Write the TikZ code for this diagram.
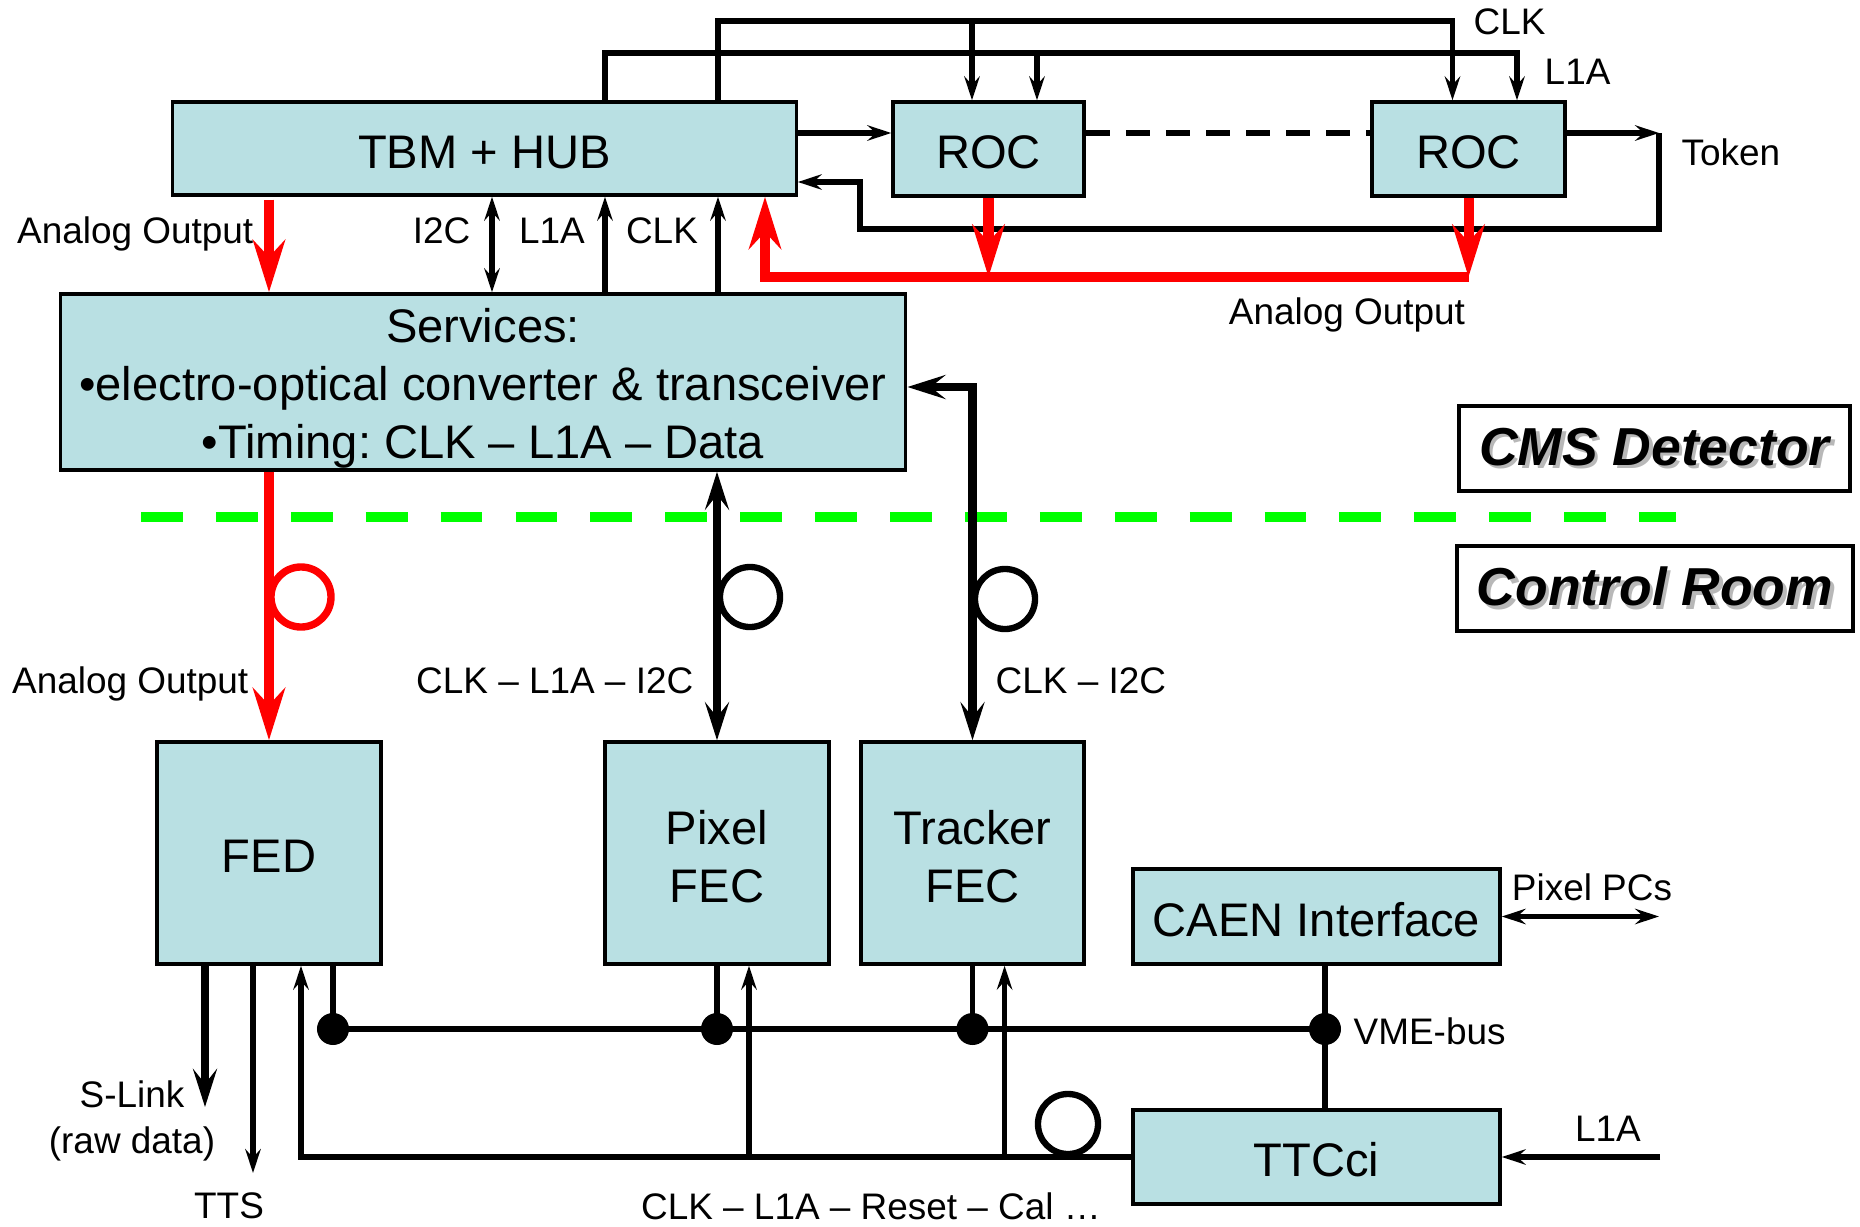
\documentclass[tikz,border=0pt]{standalone}
\usepackage{fontspec}
\setmainfont{Liberation Sans}
\usepackage{tikz}
\usetikzlibrary{arrows.meta,calc}
\usepackage{xcolor}
\definecolor{boxc}{HTML}{B9E0E3}
\definecolor{sigc}{HTML}{FF0000}
\definecolor{linec}{HTML}{00FF00}
\newcommand{\bigtxt}{\fontsize{13.4}{16.5}\selectfont}
\newcommand{\smtxt}{\fontsize{10.5}{13.1}\selectfont}
\newcommand{\areatxt}{\fontsize{15.2}{18}\selectfont\bfseries\itshape}
\newcommand{\shd}[1]{\makebox[0pt][l]{\hspace{1pt}\raisebox{-1pt}{\color{black!28}#1}}#1}
\newcommand{\lift}[1]{\rule{0pt}{#1}}
\frenchspacing

\begin{document}
\begin{tikzpicture}[x=0.01cm, y=-0.01cm,
  box/.style={draw=black, line width=0.95pt, fill=boxc, font=\bigtxt, align=center, inner sep=0pt},
  blk/.style={box, text height=11.2pt, text depth=0pt},
  area/.style={draw=black, line width=0.95pt, font=\areatxt, inner sep=0pt, minimum height=0.85cm},
  lab/.style={font=\smtxt, inner sep=0pt, text height=7.5pt, text depth=0pt},
  thn/.style={line width=1.55pt},
  thk/.style={line width=2.3pt},
  sig/.style={draw=sigc, line width=2.85pt},
  fiber/.style={line width=1.8pt},
  smallhead/.tip={Stealth[length=6.8pt, width=4.4pt, inset=2.4pt]},
  bighead/.tip={Stealth[length=10.8pt, width=6.8pt, inset=4.2pt]},
  redhead/.tip={Stealth[length=14.8pt, width=9.1pt, inset=4.8pt]}]
  \useasboundingbox (0,0) rectangle (1860,1227);

  \node[blk, minimum width=6.23cm, minimum height=0.93cm] (tbm) at (484.5,148.5) {TBM + HUB};
  \node[blk, minimum width=1.91cm, minimum height=0.94cm] (roca) at (988.5,149) {ROC};
  \node[blk, minimum width=1.93cm, minimum height=0.94cm] (rocb) at (1468.5,149) {ROC};
  \node[box, minimum width=8.45cm, minimum height=1.76cm] (serv) at (483,382)
    {\lift{13.2pt}Services:\\\textbullet electro-optical converter \& transceiver\\\textbullet Timing: CLK -- L1A -- Data};
  \node[blk, minimum width=2.24cm, minimum height=2.22cm] (fed) at (269,853) {FED};
  \node[box, minimum width=2.24cm, minimum height=2.22cm] (pfec) at (717,853) {\lift{11.8pt}Pixel\\FEC};
  \node[box, minimum width=2.23cm, minimum height=2.22cm] (tfec) at (972.5,853) {\lift{11.8pt}Tracker\\FEC};
  \node[blk, minimum width=3.67cm, minimum height=0.95cm] (caen) at (1316.5,916.5) {CAEN Interface};
  \node[blk, minimum width=3.67cm, minimum height=0.94cm] (ttc) at (1316.5,1157) {TTCci};
  \node[area, minimum width=3.91cm] (cms) at (1654.5,448.5) {\shd{CMS Detector}};
  \node[area, minimum width=3.96cm] (ctrl) at (1655,588.5) {\shd{Control Room}};

  \draw[linec, line width=3.1pt, dash pattern=on 11.9pt off 9.4pt] (141,517) -- (1676,517);

  \coordinate (clkx) at (718,0);
  \coordinate (l1ax) at (605,0);
  \coordinate (i2cx) at (492,0);
  \coordinate (clktop) at (1452.5,21);
  \coordinate (l1atop) at (1517,53);
  \coordinate (tky) at (0,133);
  \coordinate (tok) at (1659,133);
  \coordinate (retb) at (860,229);
  \coordinate (ret) at (860,182);
  \coordinate (redc) at (765,277);
  \coordinate (trk) at (972.5,387);

  \draw[thn, -{smallhead}] (tbm.north -| clkx) |- (clktop) -- (clktop |- rocb.north);
  \draw[thn, -{smallhead}] (tbm.north -| l1ax) |- (l1atop) -- (l1atop |- rocb.north);
  \draw[thn, -{smallhead}] (972,21) -- (roca.north -| 972,0);
  \draw[thn, -{smallhead}] (1037,53) -- (roca.north -| 1037,0);
  \node[lab, anchor=west] (clklab) at (1473,21) {CLK};
  \node[lab, anchor=west] (l1alab) at (1544,71) {L1A};

  \draw[thn, -{smallhead}] (tbm.east |- tky) -- (roca.west |- tky);
  \draw[thn, dash pattern=on 6.8pt off 4.6pt] (roca.east |- tky) -- (rocb.west |- tky);
  \draw[thn, -{smallhead}] (rocb.east |- tky) -- (tok);
  \draw[thn, -{smallhead}] (tok) |- (retb) -- (ret) -- (tbm.east |- ret);
  \node[lab, anchor=west] (toklab) at (1681,152) {Token};

  \draw[sig, -{redhead}] (roca.south) -- (roca.south |- redc);
  \draw[sig, -{redhead}] (rocb.south) -- (rocb.south |- redc);
  \draw[sig, -{redhead}] (rocb.south |- redc) -- (redc) -- (tbm.south -| redc);
  \node[lab] (rocout) at (1347,311) {Analog Output};

  \draw[sig, -{redhead}] ($(tbm.south -| fed.north)+(0,3)$) -- (serv.north -| fed.north);
  \node[lab, anchor=east] (tbmout) at (254,230) {Analog Output};
  \draw[thn, {smallhead}-{smallhead}] (tbm.south -| i2cx) -- (serv.north -| i2cx);
  \draw[thn, -{smallhead}] (serv.north -| l1ax) -- (tbm.south -| l1ax);
  \draw[thn, -{smallhead}] (serv.north -| clkx) -- (tbm.south -| clkx);
  \node[lab, anchor=east] (i2clab) at (471,230) {I2C};
  \node[lab] (l1alab2) at (552,230) {L1A};
  \node[lab] (clklab2) at (662,230) {CLK};

  \draw[sig, -{redhead}] (serv.south -| fed.north) -- (fed.north);
  \draw[sigc, line width=2.1pt] (301,597) circle (0.30cm);
  \node[lab, anchor=east] (fedin) at (249,680) {Analog Output};

  \draw[thk, {bighead}-{bighead}] (serv.south -| pfec.north) -- (pfec.north);
  \draw[fiber] (750,597) circle (0.30cm);
  \node[lab, anchor=east] (pfeclab) at (694,680) {CLK -- L1A -- I2C};

  \draw[thk, {bighead}-{bighead}] (serv.east |- trk) -- (trk) -- (tfec.north);
  \draw[fiber] (1005,599) circle (0.30cm);
  \node[lab, anchor=west] (tfeclab) at (995,680) {CLK -- I2C};

  \draw[thk, -{bighead}] (fed.south -| 205,0) -- (205,1107);
  \draw[thn, -{smallhead}] (fed.south -| 253,0) -- (253,1173);
  \node[font=\smtxt, align=center, inner sep=0pt] (slink) at (132,1121) {S-Link\\(raw data)};
  \node[lab] (tts) at (229,1205) {TTS};

  \coordinate (vfed) at (333,1029);
  \coordinate (vpix) at (717,1029);
  \coordinate (vtrk) at (972.5,1029);
  \coordinate (vcaen) at (1325,1029);
  \draw[thn] (fed.south -| vfed) -- (vfed) -- (vcaen);
  \draw[thn] (pfec.south) -- (vpix);
  \draw[thn] (tfec.south) -- (vtrk);
  \draw[thn] (caen.south -| vcaen) -- (ttc.north -| vcaen);
  \fill (vfed) circle (0.16cm);
  \fill (vpix) circle (0.16cm);
  \fill (vtrk) circle (0.16cm);
  \fill (vcaen) circle (0.16cm);
  \node[lab, anchor=west] (vme) at (1353,1031) {VME-bus};

  \draw[thn, -{smallhead}] (ttc.west) -| (fed.south -| 301,0);
  \draw[thn, -{smallhead}] (ttc.west -| 749,0) -- (pfec.south -| 749,0);
  \draw[thn, -{smallhead}] (ttc.west -| 1004.6,0) -- (tfec.south -| 1004.6,0);
  \draw[fiber] (1068,1124) circle (0.30cm);
  \node[lab] (ttclab) at (871,1206) {CLK -- L1A -- Reset -- Cal …};

  \draw[thn, {smallhead}-{smallhead}] (caen.east) -- (1659,916.5);
  \node[lab] (pcs) at (1592,887) {Pixel PCs};
  \draw[thn, -{smallhead}] (1660,1157) -- (ttc.east);
  \node[lab] (l1ain) at (1608,1128) {L1A};
\end{tikzpicture}
\end{document}
